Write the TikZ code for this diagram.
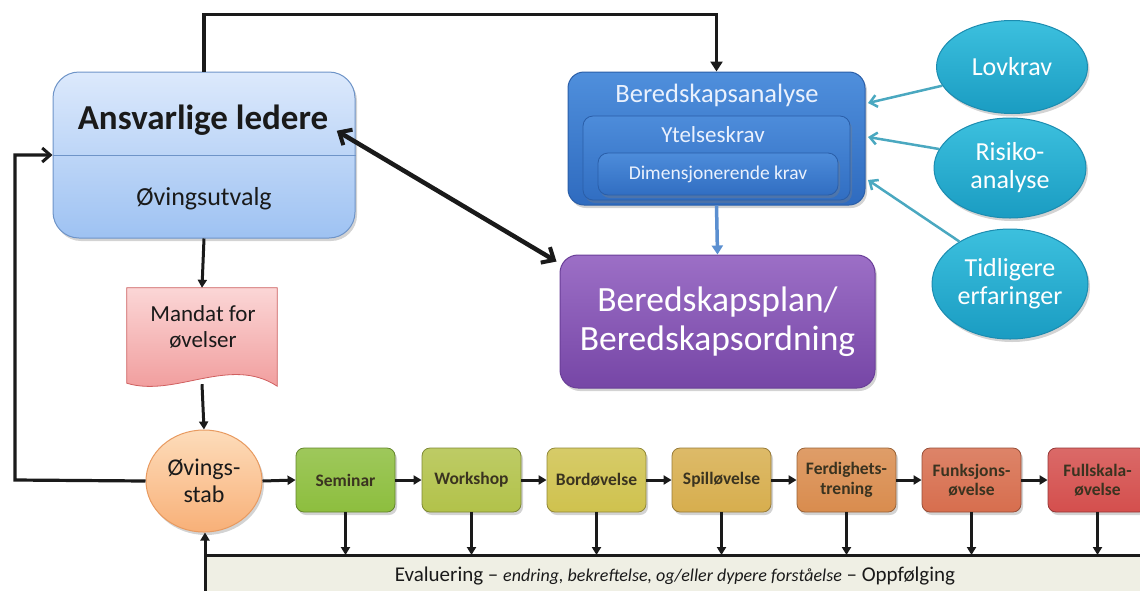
\documentclass[tikz,border=0pt]{standalone}
\usepackage{fontspec}
\setmainfont{Carlito}
\usetikzlibrary{shapes.geometric,arrows.meta,shadows,calc}

% palette
\definecolor{ink}{HTML}{1A1A1A}
\definecolor{stepink}{HTML}{3A3320}
\definecolor{teal}{HTML}{4AA8C0}
\definecolor{bluearr}{HTML}{5B8FD0}
\definecolor{ledline}{HTML}{6E94C8}
\definecolor{ledtop}{HTML}{DCE9FC}
\definecolor{ledbot}{HTML}{9EC2F2}
\definecolor{analine}{HTML}{2A5EA8}
\definecolor{anatop}{HTML}{4F8FDC}
\definecolor{anabot}{HTML}{2F6BBF}
\definecolor{intop}{HTML}{4D8CDA}
\definecolor{inbot}{HTML}{316EC2}
\definecolor{anatext}{HTML}{EAF1FD}
\definecolor{planline}{HTML}{6A3E98}
\definecolor{plantop}{HTML}{9C6FC6}
\definecolor{planbot}{HTML}{7646A6}
\definecolor{srcline}{HTML}{1C8CB0}
\definecolor{srctop}{HTML}{3CC0DE}
\definecolor{srcbot}{HTML}{1A9CC2}
\definecolor{manline}{HTML}{D06060}
\definecolor{mantop}{HTML}{FBD6D6}
\definecolor{manbot}{HTML}{F09898}
\definecolor{stabline}{HTML}{E89A60}
\definecolor{stabtop}{HTML}{FDDCBA}
\definecolor{stabbot}{HTML}{F8B078}
\definecolor{evalfill}{HTML}{EFEFE4}
\definecolor{semc}{HTML}{8DBE3E}
\definecolor{wrkc}{HTML}{B2C24A}
\definecolor{bordc}{HTML}{CFC24E}
\definecolor{spilc}{HTML}{D7AE4E}
\definecolor{ferdc}{HTML}{D98C4E}
\definecolor{funkc}{HTML}{D76E4E}
\definecolor{fullc}{HTML}{D44F4D}

\newcommand{\fsz}[1]{\fontsize{#1}{#1}\selectfont}

\tikzset{
  shade/.style={drop shadow={opacity=0.35,shadow xshift=2pt,shadow yshift=-3pt}},
  leaderbox/.style={rectangle,rounded corners=26pt,draw=ledline,line width=1pt,
    top color=ledtop,bottom color=ledbot,shade},
  anabox/.style={rectangle,rounded corners=16pt,draw=analine,line width=1pt,
    top color=anatop,bottom color=anabot,shade},
  innerbox/.style={rectangle,rounded corners=10pt,draw=analine,line width=0.8pt,
    top color=intop,bottom color=inbot,shade},
  planbox/.style={rectangle,rounded corners=18pt,draw=planline,line width=1pt,
    top color=plantop,bottom color=planbot,shade},
  source/.style={ellipse,draw=srcline,line width=1pt,top color=srctop,
    bottom color=srcbot,text=white,font=\fsz{26},align=center,inner sep=0pt,shade},
  stepbox/.style={rectangle,rounded corners=8pt,draw=#1!70!black,line width=0.8pt,
    top color=#1!85!white,bottom color=#1,minimum width=99pt,minimum height=64pt,
    font=\bfseries\fsz{17.5},text=stepink,align=center,inner sep=1pt,shade},
  flow/.style={line width=3pt,ink,-{Triangle[length=8pt,width=9pt]}},
  loop/.style={line width=3.2pt,ink,-{Straight Barb[length=8pt,width=14pt,line width=3pt]}},
  feed/.style={line width=2.5pt,teal,-{Straight Barb[length=7pt,width=12pt,line width=2.5pt]}},
}

\begin{document}
\begin{tikzpicture}[x=1pt,y=-1pt]
\useasboundingbox (0,0) rectangle (1140,590);
\clip (0,0) rectangle (1140,590);

% leadership box with its committee
\node[leaderbox,minimum width=302pt,minimum height=166pt] (led) at (204,155) {};
\draw[ledline,line width=0.8pt] (led.west) -- (led.east);
\node[font=\bfseries\fsz{35},text=ink] (ledt) at (203,120) {Ansvarlige ledere};
\node[font=\fsz{26},text=ink] (utv) at (204,199) {Øvingsutvalg};

% preparedness analysis with nested requirement boxes
\node[anabox,minimum width=297pt,minimum height=133pt] (ana) at (716.5,138.5) {};
\node[text=anatext,font=\fsz{26.5}] (anat) at (717,95) {Beredskapsanalyse};
\node[innerbox,minimum width=267pt,minimum height=84pt] (yt) at (716.5,158) {};
\node[text=anatext,font=\fsz{23}] (ytt) at (713,135) {Ytelseskrav};
\node[innerbox,minimum width=240pt,minimum height=42pt] (dim) at (718,174) {};
\node[text=anatext,font=\fsz{19.5}] (dimt) at (718,174) {Dimensjonerende krav};

% preparedness plan
\node[planbox,minimum width=315pt,minimum height=133pt,text=white,font=\fsz{35.5},
  align=center] (plan) at (717.5,321.5) {Beredskapsplan/\\[4pt]Beredskapsordning};

% inputs to the analysis
\node[source,minimum width=151pt,minimum height=93pt] (lov) at (1012,67) {Lovkrav};
\node[source,minimum width=152pt,minimum height=100pt] (ris) at (1010,168) {Risiko-\\[2pt]analyse};
\node[source,minimum width=156pt,minimum height=110pt] (tid) at (1010,284) {Tidligere\\[2pt]erfaringer};

\coordinate (inA) at (868,103);
\coordinate (inB) at (868,137);
\coordinate (inC) at (868,180);
\draw[feed] (lov.195) -- (inA);
\draw[feed] (ris.165) -- (inB);
\draw[feed] (tid.140) -- (inC);

% exercise mandate (document shape)
\node[minimum width=150pt,minimum height=90pt] (man) at (202,333) {};
\fill[black,opacity=0.25,xshift=2pt,yshift=3pt]
  (man.north west) -- (man.north east) -- ([yshift=-8pt]man.south east)
  .. controls (230,355) and (175,398) .. ([yshift=-5pt]man.south west) -- cycle;
\draw[draw=manline,line width=0.8pt,top color=mantop,bottom color=manbot]
  (man.north west) -- (man.north east) -- ([yshift=-8pt]man.south east)
  .. controls (230,355) and (175,398) .. ([yshift=-5pt]man.south west) -- cycle;
\node[font=\fsz{23},text=ink,align=center] (mant) at (203,327) {Mandat for\\[3pt]øvelser};

% exercise staff
\node[ellipse,draw=stabline,line width=1pt,top color=stabtop,bottom color=stabbot,
  minimum width=116pt,minimum height=102pt,inner sep=0pt,font=\fsz{24},text=ink,
  align=center,shade] (stab) at (204,481) {Øvings-\\[3pt]stab};

% exercise types in increasing scale
\node[stepbox=semc]  (s1) at (345.5,480) {Seminar};
\node[stepbox=wrkc]  (s2) at (471.5,480) {Workshop};
\node[stepbox=bordc] (s3) at (596.5,480) {Bordøvelse};
\node[stepbox=spilc] (s4) at (721.5,480) {Spilløvelse};
\node[stepbox=ferdc] (s5) at (846.5,480) {Ferdighets-\\[2pt]trening};
\node[stepbox=funkc] (s6) at (971.5,480) {Funksjons-\\[2pt]øvelse};
\node[stepbox=fullc] (s7) at (1097.5,480) {Fullskala-\\[2pt]øvelse};

% evaluation bar
\node[rectangle,fill=evalfill,minimum width=960pt,minimum height=40pt,anchor=north west,
  inner sep=0pt] (eval) at (205,555) {};
\draw[line width=3pt,ink] (1150,555) -- (205,555) -- (205,600);
\node[font=\fsz{21},text=ink] (evalt) at (675,576)
  {Evaluering – {\itshape\fsz{18}endring, bekreftelse, og/eller dypere forståelse} – Oppfølging};

% connectors
\draw[line width=3.2pt,ink,-{Triangle[length=10pt,width=12pt]}]
  (led.north) -- ++(0,-57) -| (ana.north);
\draw[line width=3.5pt,bluearr,-{Triangle[length=9pt,width=11pt]}] (ana.south) -- (plan.north);
\draw[line width=4.5pt,ink,{Straight Barb[length=10pt,width=18pt,line width=4pt]}-{Straight Barb[length=10pt,width=18pt,line width=4pt]}]
  ([xshift=5pt,yshift=8pt]ledt.south east) -- ([xshift=-3pt,yshift=-7pt]plan.north west);
\draw[flow] (led.south) -- (man.north);
\draw[flow] ([yshift=-6pt]man.south) -- (stab.north);
\coordinate (bend) at (15,480);
\draw[loop] (stab.west) -- (bend) |- (led.west);
\draw[flow] (eval.south west) -- (eval.south west |- stab.south);

\draw[flow] (stab.east) -- (s1.west);
\foreach \a/\b in {s1/s2,s2/s3,s3/s4,s4/s5,s5/s6,s6/s7}
  \draw[flow] (\a.east) -- (\b.west);
\foreach \s in {s1,s2,s3,s4,s5,s6,s7}
  \draw[line width=2.5pt,ink,-{Triangle[length=8pt,width=9pt]}] (\s.south) -- (\s.south |- eval.north);
\end{tikzpicture}
\end{document}
